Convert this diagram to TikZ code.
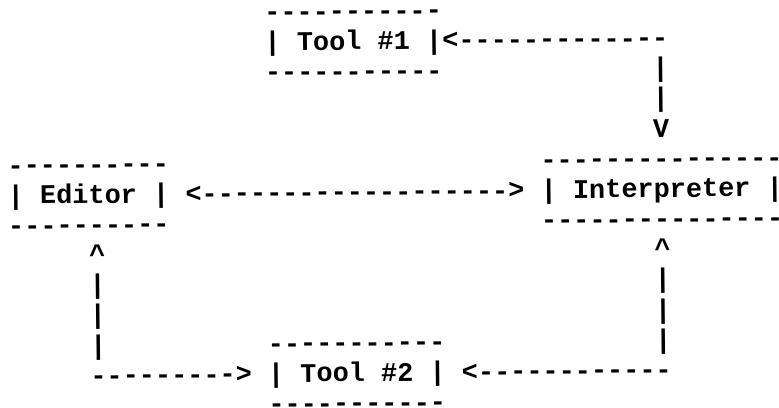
\documentclass[tikz,border=0pt]{standalone}
\usepackage{fontspec}
\newfontfamily\asciimono{Liberation Mono}[Ligatures=TeXOff, WordSpace={1,0,0}]
\newcommand{\pitch}{16.15}
\newcommand{\lsp}{30.15}
\newcommand{\xo}{7.925}
\newcommand{\yo}{19.3}
\newcommand{\glyphrow}[4]{\node[txt] (#1) at ({\xo+#2*\pitch},{-(\yo+#3*\lsp)}) {#4};}
\begin{document}
\begin{tikzpicture}[x=1pt,y=1pt,
  txt/.style={font=\asciimono\bfseries\fontsize{26.9}{30}\selectfont, anchor=base west, inner sep=0pt, outer sep=0pt, text=black}]
\useasboundingbox (0,0) rectangle (779,-407);
\begin{scope}[rotate around={0.6:(389.5,-203.5)}, transform shape]
% Tool #1 box
\glyphrow{toolatop}{16}{0}{-----------}
\glyphrow{toola}{16}{1}{| Tool \#1 |}
\glyphrow{toolabot}{16}{2}{-----------}
% connector Interpreter -> Tool #1
\glyphrow{arrowa}{27}{1}{<-------------}
\glyphrow{arrowavone}{40}{2}{|}
\glyphrow{arrowavtwo}{40}{3}{|}
\glyphrow{arrowahead}{40}{4}{V}
% Editor box
\glyphrow{edtop}{0}{5}{----------}
\glyphrow{editor}{0}{6}{| Editor |}
\glyphrow{edbot}{0}{7}{----------}
% Interpreter box
\glyphrow{intop}{33}{5}{---------------}
\glyphrow{interp}{33}{6}{| Interpreter |}
\glyphrow{inbot}{33}{7}{---------------}
% Editor <-> Interpreter
\glyphrow{arrowb}{11}{6}{<------------------->}
% Editor <-> Tool #2
\glyphrow{arrowchead}{5}{8}{\^{}}
\glyphrow{arrowcvone}{5}{9}{|}
\glyphrow{arrowcvtwo}{5}{10}{|}
\glyphrow{arrowcvthree}{5}{11}{|}
\glyphrow{arrowc}{5}{12}{--------->}
% Tool #2 box
\glyphrow{toolbtop}{16}{11}{-----------}
\glyphrow{toolb}{16}{12}{| Tool \#2 |}
\glyphrow{toolbbot}{16}{13}{-----------}
% Tool #2 <-> Interpreter
\glyphrow{arrowd}{28}{12}{<------------}
\glyphrow{arrowdvthree}{40}{11}{|}
\glyphrow{arrowdvtwo}{40}{10}{|}
\glyphrow{arrowdvone}{40}{9}{|}
\glyphrow{arrowdhead}{40}{8}{\^{}}
\end{scope}
\end{tikzpicture}
\end{document}
